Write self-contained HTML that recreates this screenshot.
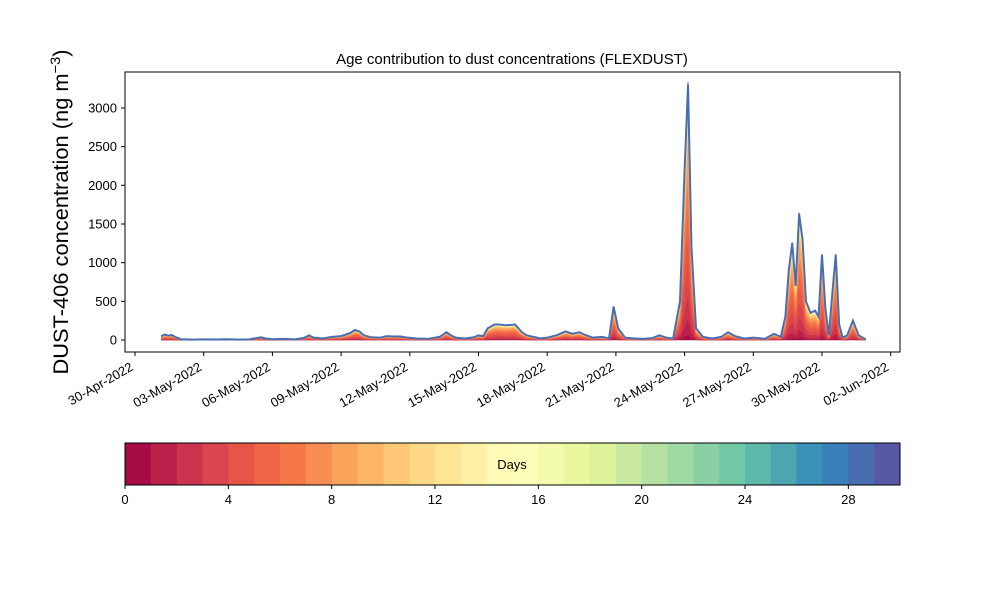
<!DOCTYPE html>
<html><head><meta charset="utf-8"><style>
body{margin:0;background:#fff;font-family:"Liberation Sans","DejaVu Sans",sans-serif}
</style></head><body>
<svg id="chart" width="1000" height="600" xmlns="http://www.w3.org/2000/svg" font-family="Liberation Sans, DejaVu Sans, sans-serif">
<rect width="1000" height="600" fill="#fff"/>
<text x="512" y="64" font-size="15" text-anchor="middle">Age contribution to dust concentrations (FLEXDUST)</text>
<text transform="translate(68,212) rotate(-90)" font-size="21" text-anchor="middle" textLength="325" lengthAdjust="spacingAndGlyphs">DUST-406 concentration (ng m<tspan dy="-8" font-size="14">−3</tspan><tspan dy="8">)</tspan></text>
<g id="plot"></g>
<g id="cbar"></g>
</svg>
<script>
// time in days since 30-Apr-2022 00:00
const times=[1.15,1.3,1.45,1.6,1.75,2.0,2.5,3.0,3.5,4.0,4.5,5.0,5.3,5.5,5.7,6.0,6.5,7.0,7.4,7.6,7.8,8.2,8.6,9.0,9.4,9.6,9.8,10.0,10.3,10.7,11.0,11.3,11.6,11.9,12.3,12.8,13.3,13.6,13.8,14.0,14.4,14.8,15.0,15.2,15.4,15.7,15.9,16.2,16.6,16.9,17.1,17.4,17.7,18.0,18.4,18.8,19.1,19.4,19.7,20.0,20.4,20.7,20.9,21.1,21.4,21.8,22.2,22.6,22.9,23.2,23.5,23.8,24.0,24.15,24.3,24.5,24.8,25.2,25.6,25.9,26.2,26.6,27.0,27.5,27.9,28.2,28.4,28.55,28.7,28.85,29.0,29.15,29.3,29.5,29.7,29.85,30.0,30.15,30.3,30.45,30.6,30.75,30.9,31.1,31.35,31.6,31.9];
const totals=[50,70,55,65,40,10,5,8,6,10,5,8,25,35,20,10,15,8,30,60,30,20,40,50,90,130,110,60,35,30,50,45,45,30,20,15,40,100,60,30,20,35,60,50,150,200,200,190,200,100,60,40,20,30,60,110,80,100,60,30,40,20,430,150,30,20,15,25,60,30,20,500,2200,3300,1200,150,40,20,40,100,50,20,30,15,80,40,300,900,1250,700,1630,1300,500,350,380,300,1100,400,60,600,1100,200,30,60,250,60,10];
// share of each age day (0..29) in total
const ageShares=[0.02,0.06,0.1,0.12,0.12,0.11,0.1,0.08,0.06,0.05,0.04,0.03,0.025,0.02,0.015,0.012,0.01,0.008,0.006,0.005,0.004,0.003,0.003,0.002,0.002,0.002,0.002,0.001,0.001,0.001];
const yTicks=[0,500,1000,1500,2000,2500,3000];
const dateTicks=["30-Apr-2022","03-May-2022","06-May-2022","09-May-2022","12-May-2022","15-May-2022","18-May-2022","21-May-2022","24-May-2022","27-May-2022","30-May-2022","02-Jun-2022"];
const cbTicks=[0,4,8,12,16,20,24,28];
const NS="http://www.w3.org/2000/svg";
const X=t=>135+t*22.9, Y=v=>340-v*232/3000;
const spec=["#9e0142","#d53e4f","#f46d43","#fdae61","#fee08b","#ffffbf","#e6f598","#abdda4","#66c2a5","#3288bd","#5e4fa2"];
function col(f){const p=f*10,i=Math.min(9,Math.floor(p)),r=p-i;const a=spec[i],b=spec[i+1];
let c="#";for(let k=1;k<7;k+=2){const v=Math.round(parseInt(a.substr(k,2),16)*(1-r)+parseInt(b.substr(k,2),16)*r);c+=v.toString(16).padStart(2,"0");}return c;}
function el(tag,attrs,parent){const e=document.createElementNS(NS,tag);for(const k in attrs)e.setAttribute(k,attrs[k]);parent.appendChild(e);return e;}
const plot=document.getElementById("plot");
el("rect",{x:125,y:72,width:775,height:280,fill:"none",stroke:"#000","stroke-width":1},plot);
let cum=times.map(()=>0);
for(let a=0;a<ageShares.length;a++){
  const lower=cum.slice();const upper=cum.map((c,i)=>c+totals[i]*ageShares[a]);
  let d="M"+times.map((t,i)=>X(t)+","+Y(upper[i])).join("L");
  for(let i=times.length-1;i>=0;i--)d+="L"+X(times[i])+","+Y(lower[i]);
  const p=el("path",{d:d+"Z",fill:col((a+0.5)/30),stroke:col((a+0.5)/30),"stroke-width":0.6},plot);
  
  
  cum=upper;
}
const line=el("path",{d:"M"+times.map((t,i)=>X(t)+","+Y(totals[i])).join("L"),fill:"none",stroke:"#4a6db0","stroke-width":2},plot);


yTicks.forEach(v=>{
  el("line",{x1:121,x2:125,y1:Y(v),y2:Y(v),stroke:"#000"},plot);
  const t=el("text",{x:117,y:Y(v)+4.5,"font-size":13,"text-anchor":"end"},plot);t.textContent=v;
  
  
});
dateTicks.forEach((s,i)=>{
  const x=X(i*3);
  el("line",{x1:x,x2:x,y1:352,y2:356,stroke:"#000"},plot);
  const t=el("text",{transform:`translate(${x-3},${366}) rotate(-30)`,"font-size":13,"text-anchor":"end",y:4},plot);t.textContent=s;
  
  
});
const cb=document.getElementById("cbar");
for(let i=0;i<30;i++){
  const r=el("rect",{x:125+i*775/30,y:443,width:775/30+0.5,height:42,fill:col((i+0.5)/30)},cb);
  
  
}
el("rect",{x:125,y:443,width:775,height:42,fill:"none",stroke:"#000"},cb);
const dl=el("text",{x:512,y:469,"font-size":13,"text-anchor":"middle"},cb);dl.textContent="Days";


cbTicks.forEach(v=>{
  const x=125+v*775/30;
  el("line",{x1:x,x2:x,y1:485,y2:489,stroke:"#000"},cb);
  const t=el("text",{x:x,y:504,"font-size":13,"text-anchor":"middle"},cb);t.textContent=v;
  
  
});
</script>
</body></html>
